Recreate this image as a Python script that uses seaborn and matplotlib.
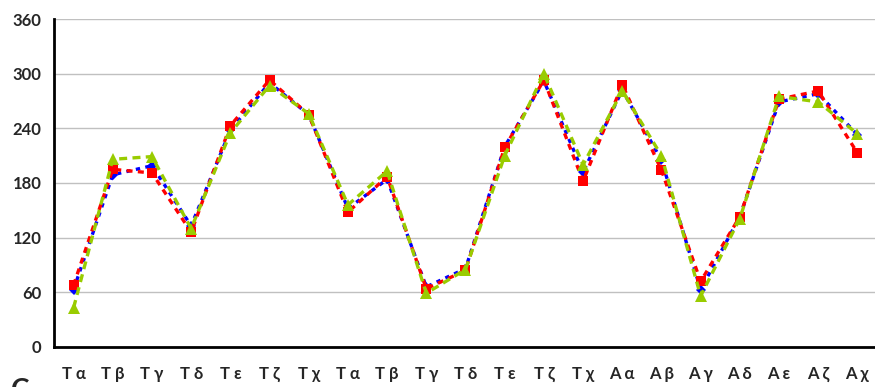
import pandas as pd
import numpy as np
import seaborn as sns
import matplotlib.pyplot as plt

# --- Data ---
categories = ["T α", "T β", "T γ", "T δ", "T ε", "T ζ", "T χ",
              "T α", "T β", "T γ", "T δ", "T ε", "T ζ", "T χ",
              "A α", "A β", "A γ", "A δ", "A ε", "A ζ", "A χ"]

blue_values = [63, 189, 199, 133, 238, 290, 255,
               152, 184, 66, 86, 220, 292, 192,
               282, 205, 63, 143, 269, 278, 233]
red_values = [68, 195, 191, 126, 243, 293, 255,
              148, 187, 64, 84, 219, 293, 182,
              288, 194, 72, 143, 272, 281, 213]
green_values = [43, 206, 209, 130, 235, 287, 256,
                156, 193, 59, 85, 210, 300, 200,
                281, 210, 56, 141, 275, 269, 234]

series_names = ["Blue", "Red", "Green"]

# long table for seaborn
frames = []
for name, vals in zip(series_names, [blue_values, red_values, green_values]):
    frames.append(pd.DataFrame({"pos": np.arange(len(categories)),
                                "value": vals,
                                "series": name}))
data = pd.concat(frames, ignore_index=True)

# --- Plot ---
sns.set_style("white")
plt.rcParams["font.family"] = ["Lato", "DejaVu Sans"]

fig = plt.figure(figsize=(8.75, 3.87), dpi=100)
ax = fig.add_axes([0.0617, 0.1034, 0.9406, 0.8475])

palette = {"Blue": "#0000FF", "Red": "#FF0000", "Green": "#99CC00"}
markers = {"Blue": "D", "Red": "s", "Green": "^"}
dashes = {"Blue": (1.3, 1.6), "Red": (1.8, 1.6), "Green": (2.4, 1.6)}
sizes = {"Blue": 5, "Red": 7, "Green": 8}

for i, name in enumerate(series_names):
    sub = data[data["series"] == name]
    sns.lineplot(data=sub, x="pos", y="value", color=palette[name],
                 marker=markers[name], markersize=sizes[name],
                 markeredgewidth=0, linewidth=2.4, dashes=dashes[name],
                 ax=ax, zorder=3 + i, legend=False)

ax.set_xlim(-0.5, len(categories) - 0.5)
ax.set_ylim(0, 360)
ax.set_yticks(np.arange(0, 361, 60))
ax.yaxis.grid(True, color="#C0C0C0", linewidth=1)
ax.set_axisbelow(True)

# ticks on category boundaries, labels at centers
ax.set_xticks(np.arange(-0.5, len(categories), 1.0))
ax.set_xticklabels([])
ax.set_xticks(np.arange(len(categories)), minor=True)
ax.set_xticklabels(categories, minor=True, fontsize=12, fontweight="bold")
ax.tick_params(axis="x", which="major", direction="out", length=5, width=1.5, color="black")
ax.tick_params(axis="x", which="minor", length=0, pad=14)
ax.tick_params(axis="y", direction="out", length=5, width=1.5, color="black",
               labelsize=12, pad=4)
for lbl in ax.get_yticklabels():
    lbl.set_fontweight("bold")

ax.set_xlabel("")
ax.set_ylabel("")
for side in ["top", "right"]:
    ax.spines[side].set_visible(False)
for side in ["left", "bottom"]:
    ax.spines[side].set_linewidth(2)
    ax.spines[side].set_color("black")

# panel letter, mostly cut off at the bottom edge
fig.text(0.012, -0.045, "C", fontsize=20, fontweight="bold", ha="left", va="bottom")

fig.savefig("out.png", dpi=100)
